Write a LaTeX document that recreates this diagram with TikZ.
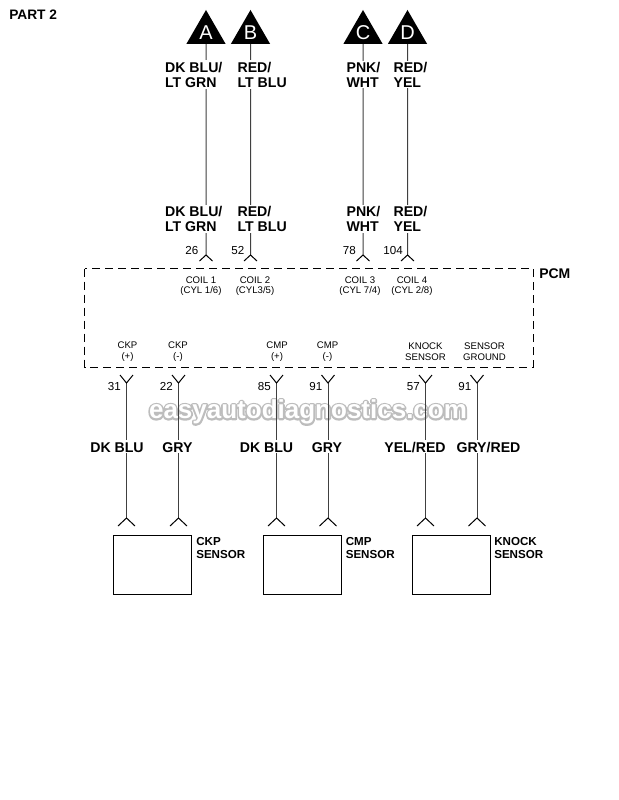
\documentclass[tikz,border=0pt]{standalone}
\usepackage{fontspec}
\setmainfont{Liberation Sans}
\usetikzlibrary{shapes.geometric}
\tikzset{
    wirelabel/.style={fill=white, inner sep=1pt, align=left, font=\fontsize{10.6}{11.3}\selectfont\bfseries},
    lowlabel/.style={fill=white, inner sep=1pt, anchor=base, text height=8pt, text depth=0pt, font=\fontsize{10.6}{11.3}\selectfont\bfseries},
    pinlabel/.style={align=center, inner sep=0pt, font=\fontsize{7.2}{7.8}\selectfont},
    pinnum/.style={anchor=base east, inner sep=0pt, font=\fontsize{8.7}{10}\selectfont},
    sensorbox/.style={draw, line width=0.75pt, minimum width=58.5pt, minimum height=44.25pt, inner sep=0pt},
    sensorname/.style={anchor=north west, align=left, inner sep=0pt, font=\fontsize{8.7}{10}\selectfont\bfseries},
    wirehead/.style={regular polygon, regular polygon sides=3, fill=black, text=white, minimum size=33.8pt, inner sep=0pt, font=\fontsize{15}{15}\selectfont},
    wire/.style={line width=0.75pt, draw=black!75}
}
\begin{document}
\begin{tikzpicture}[x=0.75pt, y=-0.75pt]
    \useasboundingbox (0,0) rectangle (618,800);
    \fill[white] (0,0) rectangle (618,800);

    \node[anchor=west, inner sep=0pt, font=\fontsize{10.3}{12}\selectfont\bfseries] (part) at (9,15) {PART 2};

    % watermark
    \node[text=white, inner sep=0pt, font=\fontsize{19.5}{20}\selectfont\bfseries] (mark) at (308,412)
        {\rlap{\special{pdf:code q 2 Tr 2.6 w 0.74 G 1 J 1 j}easyautodiagnostics.com\special{pdf:code Q}}easyautodiagnostics.com};

    % top wires
    \foreach \name/\xx/\letter in {a/206/A, b/250.5/B, c/363/C, d/407.5/D} {
        \node[wirehead] (head\name) at (\xx,32.5) {\letter};
        \coordinate (pin\name) at (\xx,255);
        \draw[wire] (head\name) -- (pin\name);
        \draw[line width=0.75pt] (\xx-6.5,261) -- (pin\name) -- (\xx+6.5,261);
    }

    \node[wirelabel, anchor=west] (tla) at (163.5,74.5) {DK BLU/\\LT GRN};
    \node[wirelabel, anchor=west] (tlb) at (236,74.5) {RED/\\LT BLU};
    \node[wirelabel, anchor=west] (tlc) at (345,74.5) {PNK/\\WHT};
    \node[wirelabel, anchor=west] (tld) at (392,74.5) {RED/\\YEL};
    \node[wirelabel, anchor=west] (mla) at (163.5,219) {DK BLU/\\LT GRN};
    \node[wirelabel, anchor=west] (mlb) at (236,219) {RED/\\LT BLU};
    \node[wirelabel, anchor=west] (mlc) at (345,219) {PNK/\\WHT};
    \node[wirelabel, anchor=west] (mld) at (392,219) {RED/\\YEL};

    \node[pinnum] (n26) at (198.5,254) {26};
    \node[pinnum] (n52) at (244.5,254) {52};
    \node[pinnum] (n78) at (356,254) {78};
    \node[pinnum] (n104) at (403,254) {104};

    % PCM
    \draw[dashed, line width=0.75pt, dash pattern=on 6pt off 3.75pt] (84.5,268.5) rectangle (533,367);
    \node[anchor=west, inner sep=0pt, font=\fontsize{10.5}{12}\selectfont\bfseries] (pcm) at (539,274) {PCM};

    \node[pinlabel] (coila) at (201,286) {COIL 1\\(CYL 1/6)};
    \node[pinlabel] (coilb) at (255,286) {COIL 2\\(CYL3/5)};
    \node[pinlabel] (coilc) at (360,286) {COIL 3\\(CYL 7/4)};
    \node[pinlabel] (coild) at (412,286) {COIL 4\\(CYL 2/8)};
    \node[pinlabel] (ckpp) at (127.5,351.5) {CKP\\(+)};
    \node[pinlabel] (ckpm) at (178,351.5) {CKP\\(-)};
    \node[pinlabel] (cmpp) at (277,351.5) {CMP\\(+)};
    \node[pinlabel] (cmpm) at (327.5,351.5) {CMP\\(-)};
    \node[pinlabel] (knock) at (425.5,351.5) {KNOCK\\SENSOR};
    \node[pinlabel] (sgnd) at (484.5,351.5) {SENSOR\\GROUND};

    % sensors
    \node[sensorbox] (ckp) at (152.5,564.5) {};
    \node[sensorbox] (cmp) at (302.5,564.5) {};
    \node[sensorbox] (kns) at (451,564.5) {};
    \node[sensorname] (ckpname) at (196,537) {CKP\\SENSOR};
    \node[sensorname] (cmpname) at (345.5,537) {CMP\\SENSOR};
    \node[sensorname] (knsname) at (494,537) {KNOCK\\SENSOR};

    % bottom wires
    \foreach \name/\xx/\num in {e/126.5/31, f/178.5/22, g/276.5/85, h/328/91, i/425.5/57, j/477/91} {
        \coordinate (up\name) at (\xx,383);
        \coordinate (dn\name) at (\xx,518);
        \draw[wire] (up\name) -- (dn\name);
        \draw[line width=0.75pt] (\xx-6.5,375) -- (up\name) -- (\xx+6.5,375);
        \draw[line width=0.75pt] (\xx-8.5,526) -- (dn\name) -- (\xx+8.5,526);
        \node[pinnum] (num\name) at (\xx-5.5,390) {\num};
    }

    \node[lowlabel] (lle) at (117,452) {DK BLU};
    \node[lowlabel] (llf) at (177.5,452) {GRY};
    \node[lowlabel] (llg) at (266.5,452) {DK BLU};
    \node[lowlabel] (llh) at (327,452) {GRY};
    \node[lowlabel] (lli) at (415,452) {YEL/RED};
    \node[lowlabel] (llj) at (488.5,452) {GRY/RED};
\end{tikzpicture}
\end{document}
